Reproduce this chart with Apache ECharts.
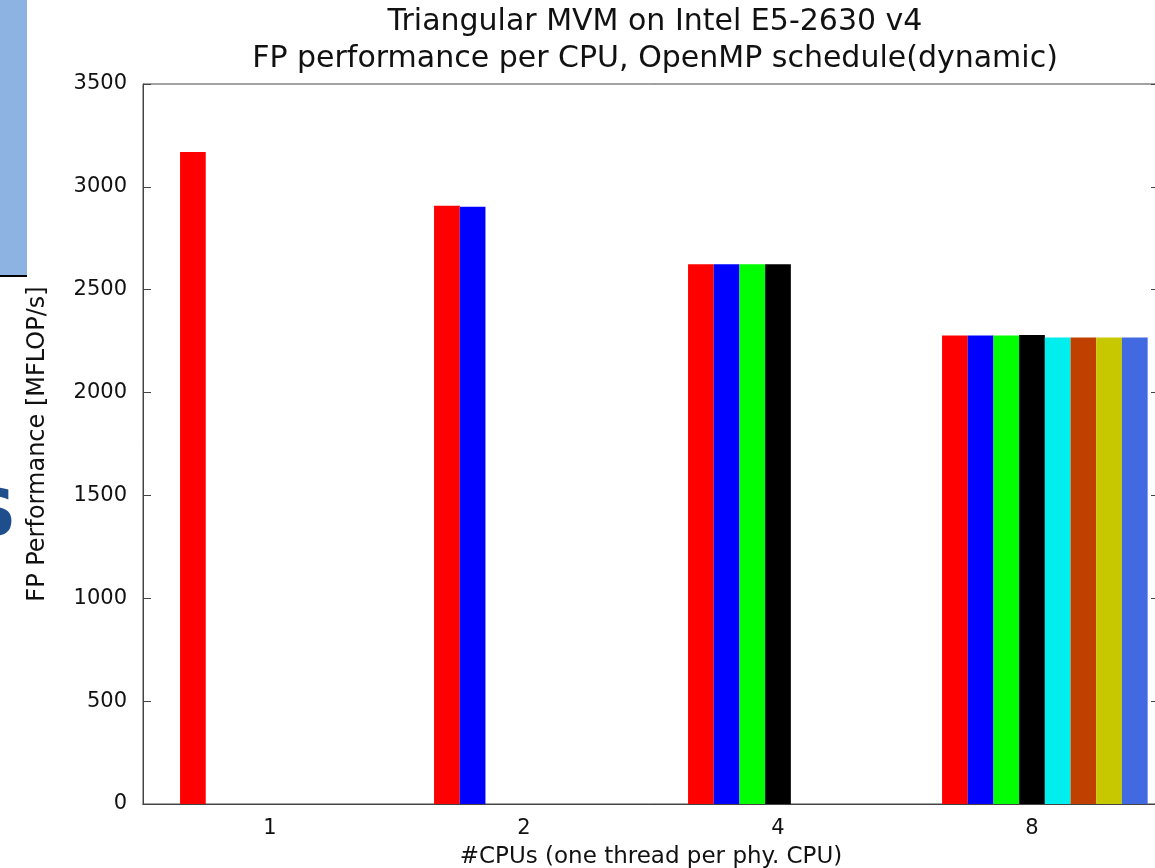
<!DOCTYPE html>
<html lang="en">
	<head>
		<meta charset="UTF-8" />
		<title>Triangular MVM</title>
		<script src="https://cdn.jsdelivr.net/npm/echarts@6.0.0/dist/echarts.min.js"></script>
		<style>
			html, body { margin: 0; padding: 0; background: #fff; }
		</style>
	</head>
	<body>
		<div id="main" style="width: 1155px; height: 868px"></div>
		<script type="text/javascript">
			// #CPUs on the x axis, one bar per thread
			const cpus = ["1", "2", "4", "8"];
			const yTicks = [0, 3500, 500]; // min, max, step

			const thread1 = [3170, 2908, 2624, 2277];
			const thread2 = [null, 2903, 2624, 2277];
			const thread3 = [null, null, 2624, 2277];
			const thread4 = [null, null, 2624, 2280];
			const thread5 = [null, null, null, 2268];
			const thread6 = [null, null, null, 2268];
			const thread7 = [null, null, null, 2268];
			const thread8 = [null, null, null, 2268];

			const threads = [thread1, thread2, thread3, thread4, thread5, thread6, thread7, thread8];
			const colors = ["#ff0000", "#0000ff", "#00ff00", "#000000", "#00eeee", "#c04000", "#c8c800", "#4169e1"];

			const font = "DejaVu Sans";
			const axisColor = "#444";

			// gnuplot clusters start a bit right of the tick, an empty first slot shifts them
			const series = [
				{ type: "bar", name: "spacer", data: [null, null, null, null], barWidth: 25.7, barGap: "0%", silent: true },
			];
			threads.forEach((d, i) => {
				series.push({
					type: "bar",
					name: "thread " + (i + 1),
					data: d,
					barWidth: 25.7,
					barGap: "0%",
					itemStyle: { color: colors[i] },
					silent: true,
				});
			});

			const chart = echarts.init(document.getElementById("main"));
			chart.setOption({
				animation: false,
				backgroundColor: "#fff",
				title: {
					text: "Triangular MVM on Intel E5-2630 v4\nFP performance per CPU, OpenMP schedule(dynamic)",
					left: 650,
					top: -1,
					textAlign: "center",
					textStyle: { fontFamily: font, fontSize: 30, fontWeight: "normal", color: "#111", lineHeight: 37 },
				},
				graphic: [
					// pieces of the slide behind the plot
					{ type: "rect", shape: { x: 0, y: 0, width: 27, height: 275 }, style: { fill: "#8db3e2" } },
					{ type: "rect", shape: { x: 0, y: 275, width: 27, height: 2 }, style: { fill: "#000" } },
					{ type: "text", x: -30, y: 486, style: { text: "S", font: "bold 64px DejaVu Sans", fill: "#1f4e8c" } },
				],
				grid: {
					left: 143, top: 84, width: 1016, height: 720,
					outerBoundsMode: "none",
					show: true, borderColor: axisColor, borderWidth: 1,
				},
				xAxis: [
					{
						type: "category",
						data: cpus,
						name: "#CPUs (one thread per phy. CPU)",
						nameLocation: "middle",
						nameGap: 42,
						nameTextStyle: { fontFamily: font, fontSize: 23, color: "#111" },
						axisLine: { lineStyle: { color: axisColor } },
						axisTick: { inside: true, alignWithLabel: true, length: 9, lineStyle: { color: axisColor } },
						axisLabel: { fontFamily: font, fontSize: 21, color: "#111", margin: 14 },
					},
					{
						type: "category",
						data: cpus,
						position: "top",
						axisLine: { lineStyle: { color: axisColor } },
						axisTick: { inside: true, alignWithLabel: true, length: 9, lineStyle: { color: axisColor } },
						axisLabel: { show: false },
					},
				],
				yAxis: [
					{
						type: "value",
						min: yTicks[0],
						max: yTicks[1],
						interval: yTicks[2],
						name: "FP Performance [MFLOP/s]",
						nameLocation: "middle",
						nameGap: 93,
						nameTextStyle: { fontFamily: font, fontSize: 24, color: "#111" },
						axisLine: { show: true, lineStyle: { color: axisColor } },
						axisTick: { show: true, inside: true, length: 8, lineStyle: { color: axisColor } },
						axisLabel: { fontFamily: font, fontSize: 21, color: "#111", margin: 16, formatter: (v) => String(v) },
						splitLine: { show: false },
					},
					{
						type: "value",
						position: "right",
						min: yTicks[0],
						max: yTicks[1],
						interval: yTicks[2],
						axisLine: { show: true, lineStyle: { color: axisColor } },
						axisTick: { show: true, inside: true, length: 8, lineStyle: { color: axisColor } },
						axisLabel: { show: false },
						splitLine: { show: false },
					},
				],
				series: series,
			});
		</script>
	</body>
</html>
